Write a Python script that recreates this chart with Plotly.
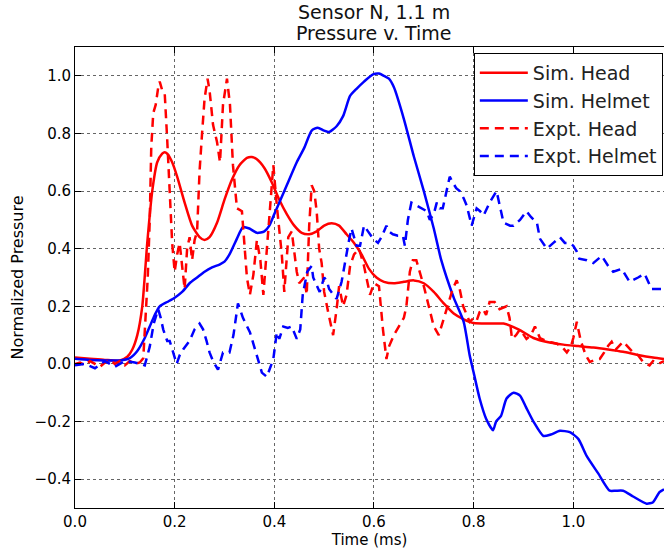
import plotly.graph_objects as go

# ---- data ----
sim_head_t = [0, 0.03, 0.06, 0.09, 0.105, 0.115, 0.125, 0.135, 0.145, 0.155,
              0.165, 0.175, 0.18, 0.185, 0.195, 0.205, 0.22, 0.235, 0.25, 0.26,
              0.27, 0.285, 0.3, 0.315, 0.33, 0.345, 0.355, 0.365, 0.38, 0.395,
              0.41, 0.425, 0.44, 0.455, 0.47, 0.485, 0.5, 0.515, 0.53, 0.545,
              0.56, 0.575, 0.59, 0.605, 0.62, 0.64, 0.66, 0.68, 0.7, 0.72,
              0.74, 0.76, 0.78, 0.8, 0.83, 0.86, 0.89, 0.92, 0.95, 0.98,
              1.01, 1.04, 1.07, 1.1, 1.13, 1.16, 1.182]
sim_head_y = [0.022, 0.018, 0.014, 0.012, 0.025, 0.05, 0.1, 0.2, 0.42, 0.6,
              0.7, 0.73, 0.735, 0.73, 0.7, 0.65, 0.56, 0.48, 0.44, 0.43,
              0.44, 0.49, 0.57, 0.64, 0.69, 0.715, 0.718, 0.71, 0.68, 0.63,
              0.57, 0.52, 0.48, 0.455, 0.45, 0.46, 0.48, 0.488, 0.48, 0.45,
              0.42, 0.38, 0.33, 0.30, 0.285, 0.28, 0.285, 0.29, 0.28, 0.25,
              0.21, 0.175, 0.155, 0.142, 0.14, 0.14, 0.12, 0.09, 0.075, 0.067,
              0.062, 0.057, 0.05, 0.042, 0.031, 0.022, 0.017]

sim_helmet_t = [0, 0.03, 0.06, 0.09, 0.11, 0.125, 0.14, 0.15, 0.16, 0.17,
                0.185, 0.2, 0.215, 0.23, 0.245, 0.26, 0.275, 0.29, 0.3, 0.31,
                0.325, 0.337, 0.35, 0.365, 0.38, 0.39, 0.4, 0.41, 0.425, 0.445,
                0.46, 0.475, 0.487, 0.5, 0.51, 0.525, 0.538, 0.552, 0.565, 0.58,
                0.598, 0.61, 0.62, 0.63, 0.64, 0.66, 0.68, 0.7, 0.72, 0.735,
                0.76, 0.78, 0.792, 0.8, 0.812, 0.825, 0.839, 0.845, 0.855, 0.866,
                0.88, 0.893, 0.905, 0.92, 0.94, 0.955, 0.973, 0.993, 1.01, 1.027,
                1.05, 1.073, 1.085, 1.1, 1.12, 1.147, 1.16, 1.173, 1.182]
sim_helmet_y = [0.018, 0.014, 0.012, 0.012, 0.02, 0.045, 0.09, 0.13, 0.17, 0.2,
                0.215, 0.23, 0.25, 0.28, 0.3, 0.32, 0.335, 0.345, 0.355, 0.38,
                0.435, 0.475, 0.47, 0.455, 0.46, 0.48, 0.52, 0.56, 0.62, 0.70,
                0.75, 0.81, 0.82, 0.81, 0.805, 0.825, 0.86, 0.93, 0.955, 0.98,
                1.005, 1.008, 1.0, 0.99, 0.96, 0.85, 0.72, 0.60, 0.47, 0.36,
                0.23, 0.146, 0.03, -0.03, -0.12, -0.19, -0.23, -0.2, -0.18, -0.12,
                -0.1, -0.11, -0.15, -0.2, -0.25, -0.245, -0.232, -0.237, -0.26, -0.32,
                -0.38, -0.44, -0.44, -0.44, -0.46, -0.485, -0.48, -0.445, -0.435]

expt_head_t = [0, 0.01, 0.02, 0.03, 0.04, 0.05, 0.06, 0.07, 0.08, 0.09,
               0.1, 0.11, 0.12, 0.13, 0.137, 0.146, 0.15, 0.153, 0.157, 0.162,
               0.167, 0.17, 0.175, 0.18, 0.185, 0.19, 0.195, 0.2, 0.205, 0.21,
               0.215, 0.22, 0.225, 0.23, 0.235, 0.24, 0.245, 0.25, 0.255, 0.26,
               0.266, 0.27, 0.277, 0.285, 0.291, 0.297, 0.305, 0.311, 0.317, 0.325,
               0.335, 0.34, 0.345, 0.351, 0.358, 0.365, 0.372, 0.378, 0.385, 0.392,
               0.398, 0.405, 0.41, 0.415, 0.42, 0.428, 0.435, 0.44, 0.445, 0.45,
               0.46, 0.465, 0.47, 0.475, 0.48, 0.485, 0.49, 0.495, 0.5, 0.508,
               0.518, 0.525, 0.53, 0.538, 0.545, 0.552, 0.56, 0.57, 0.58, 0.592,
               0.6, 0.61, 0.618, 0.625, 0.63, 0.64, 0.65, 0.66, 0.665, 0.672,
               0.678, 0.685, 0.69, 0.7, 0.71, 0.72, 0.73, 0.74, 0.75, 0.758,
               0.766, 0.772, 0.779, 0.786, 0.792, 0.8, 0.806, 0.812, 0.819, 0.825,
               0.832, 0.842, 0.852, 0.866, 0.872, 0.877, 0.885, 0.893, 0.906, 0.915,
               0.923, 0.933, 0.945, 0.955, 0.967, 0.977, 0.987, 0.995, 1.0, 1.007,
               1.015, 1.025, 1.033, 1.045, 1.053, 1.062, 1.07, 1.077, 1.085, 1.1,
               1.113, 1.12, 1.13, 1.14, 1.153, 1.16, 1.17, 1.182]
expt_head_y = [0.0, 0.005, -0.005, 0.01, 0.0, -0.01, 0.005, 0.015, 0.0, 0.01,
               -0.005, 0.01, 0.0, 0.005, 0.02, 0.3, 0.5, 0.75, 0.87, 0.9,
               0.96, 0.98, 0.95, 0.94, 0.78, 0.6, 0.42, 0.32, 0.38, 0.42,
               0.35, 0.26, 0.4, 0.44, 0.36, 0.43, 0.46, 0.67, 0.8, 0.92,
               0.99, 0.95, 0.83, 0.77, 0.7, 0.9, 0.99, 0.9, 0.69, 0.54,
               0.53, 0.4, 0.3, 0.24, 0.31, 0.43, 0.36, 0.24, 0.4, 0.55,
               0.69, 0.55, 0.46, 0.38, 0.25, 0.44, 0.46, 0.39, 0.32, 0.28,
               0.3, 0.24, 0.48, 0.62, 0.6, 0.53, 0.4, 0.35, 0.25, 0.18,
               0.1, 0.19, 0.27, 0.2, 0.24, 0.34, 0.38, 0.4, 0.34, 0.24,
               0.28, 0.27, 0.12, 0.017, 0.06, 0.1, 0.13, 0.16, 0.2, 0.32,
               0.36, 0.36, 0.33, 0.27, 0.2, 0.13, 0.1, 0.16, 0.22, 0.26,
               0.29, 0.26, 0.2, 0.17, 0.146, 0.16, 0.15, 0.18, 0.19, 0.17,
               0.215, 0.215, 0.19, 0.2, 0.16, 0.087, 0.1, 0.12, 0.087, 0.1,
               0.13, 0.09, 0.08, 0.075, 0.07, 0.06, 0.04, 0.06, 0.09, 0.146,
               0.08, 0.03, 0.007, 0.015, 0.017, 0.04, 0.063, 0.077, 0.05, 0.077,
               0.052, 0.04, 0.03, 0.007, -0.005, 0.01, 0.0, 0.01]

expt_helmet_t = [0, 0.02, 0.04, 0.06, 0.08, 0.1, 0.12, 0.14, 0.15, 0.158,
                 0.167, 0.172, 0.177, 0.185, 0.19, 0.197, 0.204, 0.21, 0.217, 0.23,
                 0.24, 0.25, 0.257, 0.264, 0.27, 0.277, 0.287, 0.297, 0.31, 0.318,
                 0.327, 0.337, 0.351, 0.358, 0.365, 0.375, 0.385, 0.392, 0.398, 0.405,
                 0.41, 0.418, 0.427, 0.435, 0.445, 0.452, 0.457, 0.466, 0.475, 0.478,
                 0.485, 0.491, 0.5, 0.505, 0.51, 0.518, 0.525, 0.535, 0.545, 0.55,
                 0.555, 0.56, 0.565, 0.572, 0.575, 0.58, 0.588, 0.598, 0.608, 0.615,
                 0.625, 0.63, 0.638, 0.648, 0.658, 0.662, 0.668, 0.675, 0.685, 0.695,
                 0.706, 0.712, 0.72, 0.726, 0.732, 0.738, 0.745, 0.752, 0.758, 0.765,
                 0.772, 0.78, 0.786, 0.796, 0.806, 0.813, 0.82, 0.832, 0.846, 0.852,
                 0.86, 0.873, 0.88, 0.893, 0.906, 0.915, 0.927, 0.933, 0.947, 0.96,
                 0.973, 0.983, 0.993, 1.0, 1.007, 1.012, 1.027, 1.04, 1.057, 1.07,
                 1.08, 1.097, 1.113, 1.13, 1.143, 1.157, 1.17, 1.182]
expt_helmet_y = [-0.005, 0.0, -0.015, 0.01, -0.01, 0.01, 0.005, -0.005, 0.06, 0.14,
                 0.19, 0.16, 0.12, 0.08, 0.08, 0.04, 0.0, 0.03, 0.05, 0.08,
                 0.12, 0.14, 0.12, 0.08, 0.04, 0.01, -0.02, 0.04, 0.04, 0.1,
                 0.21, 0.16, 0.11, 0.07, 0.03, -0.03, -0.045, -0.01, 0.017, 0.11,
                 0.087, 0.13, 0.125, 0.13, 0.087, 0.12, 0.24, 0.32, 0.34, 0.3,
                 0.27, 0.25, 0.3, 0.29, 0.26, 0.24, 0.226, 0.285, 0.39, 0.43,
                 0.47, 0.435, 0.41, 0.41, 0.435, 0.48, 0.46, 0.435, 0.42, 0.44,
                 0.48, 0.46, 0.45, 0.445, 0.445, 0.41, 0.5, 0.56, 0.55, 0.54,
                 0.53, 0.5, 0.52, 0.56, 0.54, 0.54, 0.6, 0.65, 0.63, 0.61,
                 0.6, 0.575, 0.55, 0.48, 0.54, 0.53, 0.515, 0.56, 0.6, 0.55,
                 0.49, 0.48, 0.48, 0.5, 0.53, 0.51, 0.49, 0.435, 0.4, 0.42,
                 0.44, 0.42, 0.42, 0.41, 0.39, 0.365, 0.36, 0.35, 0.375, 0.34,
                 0.32, 0.33, 0.285, 0.3, 0.313, 0.26, 0.26, 0.26]

x_ticks = [0.0, 0.2, 0.4, 0.6, 0.8, 1.0]
y_ticks = [-0.4, -0.2, 0.0, 0.2, 0.4, 0.6, 0.8, 1.0]
title_lines = ["Sensor N, 1.1 m", "Pressure v. Time"]

FONT = "DejaVu Sans"
DASH = "9px,6px"

fig = go.Figure()
fig.add_trace(go.Scatter(x=sim_head_t, y=sim_head_y, mode="lines", name="Sim. Head",
                         legendgroup="a", line=dict(color="red", width=2.5, shape="spline", smoothing=0.6)))
fig.add_trace(go.Scatter(x=sim_helmet_t, y=sim_helmet_y, mode="lines", name="Sim. Helmet",
                         legendgroup="b", line=dict(color="blue", width=2.5, shape="spline", smoothing=0.6)))
fig.add_trace(go.Scatter(x=expt_head_t, y=expt_head_y, mode="lines", name="Expt. Head",
                         legendgroup="c", line=dict(color="red", width=2.5, dash=DASH)))
fig.add_trace(go.Scatter(x=expt_helmet_t, y=expt_helmet_y, mode="lines", name="Expt. Helmet",
                         legendgroup="d", line=dict(color="blue", width=2.5, dash=DASH)))

axis_common = dict(showline=True, linecolor="black", linewidth=1,
                   ticks="inside", ticklen=6, tickcolor="black",
                   showgrid=True, gridcolor="#666666", gridwidth=1, griddash="dot",
                   zeroline=False, tickfont=dict(family=FONT, size=15, color="black"),
                   tickformat=".1f")

# title as two text lines above the plot area
for i, line in enumerate(title_lines):
    fig.add_annotation(text=line, xref="paper", yref="paper",
                       x=0.5076, y=[1.076, 1.030][i], xanchor="center", yanchor="middle",
                       showarrow=False, font=dict(family=FONT, size=19, color="#111"))

fig.update_layout(
    width=664, height=550,
    margin=dict(l=75, r=0, t=47, b=42),
    paper_bgcolor="white", plot_bgcolor="white",
    font=dict(family=FONT, color="black"),
    xaxis=dict(range=[0, 1.182], tickvals=x_ticks, mirror="allticks",
               title=dict(text="Time (ms)", font=dict(family=FONT, size=15), standoff=3),
               **axis_common),
    yaxis=dict(range=[-0.5, 1.1], tickvals=y_ticks, mirror=False,
               title=dict(text="Normalized Pressure", font=dict(family=FONT, size=16), standoff=6),
               **axis_common),
    legend=dict(x=0.998, xanchor="right", y=0.987, yanchor="top",
                bgcolor="white", bordercolor="black", borderwidth=1, itemwidth=48,
                font=dict(family=FONT, size=19, color="#222"), tracegroupgap=0),
    showlegend=True,
)

fig.write_html("out.html", post_script="document.body.style.margin='0px';",
               config={"displayModeBar": False})
